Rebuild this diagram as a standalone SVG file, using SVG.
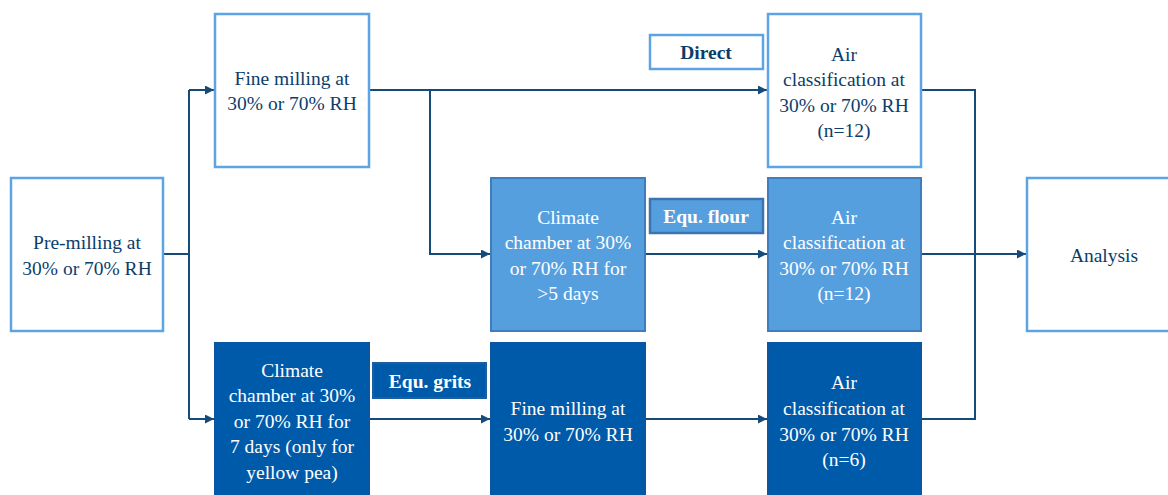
<svg xmlns="http://www.w3.org/2000/svg" width="1168" height="495" viewBox="0 0 1168 495">
<defs>
<marker id="arr" viewBox="0 0 10 10" refX="10" refY="5" markerWidth="4.5" markerHeight="4.5" orient="auto" markerUnits="strokeWidth">
<path d="M0,0 L10,5 L0,10 z" fill="#164A78"/>
</marker>
<style>
.w{fill:#fff;stroke:#5BA4E6;stroke-width:2.5}
.m{fill:#569FDF;stroke:#3F7DBD;stroke-width:2}
.d{fill:#005AAA;stroke:#0A56A0;stroke-width:2}
.lw{fill:#fff;stroke:#5BA4E6;stroke-width:2.5}
.lm{fill:#569FDF;stroke:#3B74B0;stroke-width:2.5}
.ld{fill:#005AAA;stroke:#1C5E9E;stroke-width:2}
text{font-family:'Liberation Serif','Times New Roman',serif;font-size:19.5px;text-anchor:middle}
.tn{fill:#0B3D6B}
.tw{fill:#fff}
.b{font-weight:bold}
.c{fill:none;stroke:#164A78;stroke-width:2}
</style>
</defs>
<g id="connectors">
<path class="c" d="M163,254 H189"/>
<path class="c" d="M189,90 V419"/>
<path class="c" d="M189,90 H214" marker-end="url(#arr)"/>
<path class="c" d="M189,419 H214" marker-end="url(#arr)"/>
<path class="c" d="M369,90 H767" marker-end="url(#arr)"/>
<path class="c" d="M430,90 V254 H490" marker-end="url(#arr)"/>
<path class="c" d="M645,254 H767" marker-end="url(#arr)"/>
<path class="c" d="M369,419 H490" marker-end="url(#arr)"/>
<path class="c" d="M645,419 H767" marker-end="url(#arr)"/>
<path class="c" d="M921,90 H975 V419 H921"/>
<path class="c" d="M921,254 H1026" marker-end="url(#arr)"/>
</g>
<g id="premilling">
<rect class="w" x="11" y="178" width="152" height="153"/>
<text class="tn" x="87" y="249">Pre-milling at</text>
<text class="tn" x="87" y="275">30% or 70% RH</text>
</g>
<g id="finemilling1">
<rect class="w" x="215" y="14" width="154" height="153"/>
<text class="tn" x="292" y="85">Fine milling at</text>
<text class="tn" x="292" y="110">30% or 70% RH</text>
</g>
<g id="direct">
<rect class="lw" x="650" y="35" width="113" height="34"/>
<text class="tn b" x="706" y="59">Direct</text>
</g>
<g id="air1">
<rect class="w" x="768" y="14" width="153" height="153"/>
<text class="tn" x="844" y="61">Air</text>
<text class="tn" x="844" y="86">classification at</text>
<text class="tn" x="844" y="112">30% or 70% RH</text>
<text class="tn" x="844" y="137">(n=12)</text>
</g>
<g id="climate1">
<rect class="m" x="491" y="178" width="154" height="153"/>
<text class="tw" x="568" y="224">Climate</text>
<text class="tw" x="568" y="249">chamber at 30%</text>
<text class="tw" x="568" y="275">or 70% RH for</text>
<text class="tw" x="568" y="300">&gt;5 days</text>
</g>
<g id="equflour">
<rect class="lm" x="650" y="199" width="113" height="34"/>
<text class="tw b" x="706" y="223">Equ. flour</text>
</g>
<g id="air2">
<rect class="m" x="768" y="178" width="153" height="153"/>
<text class="tw" x="844" y="224">Air</text>
<text class="tw" x="844" y="249">classification at</text>
<text class="tw" x="844" y="275">30% or 70% RH</text>
<text class="tw" x="844" y="300">(n=12)</text>
</g>
<g id="analysis">
<rect class="w" x="1027" y="178" width="153" height="153"/>
<text class="tn" x="1104" y="262">Analysis</text>
</g>
<g id="climate2">
<rect class="d" x="215" y="343" width="154" height="160"/>
<text class="tw" x="292" y="377">Climate</text>
<text class="tw" x="292" y="402">chamber at 30%</text>
<text class="tw" x="292" y="428">or 70% RH for</text>
<text class="tw" x="292" y="453">7 days (only for</text>
<text class="tw" x="292" y="479">yellow pea)</text>
</g>
<g id="equgrits">
<rect class="ld" x="373" y="363" width="113" height="35"/>
<text class="tw b" x="430" y="388">Equ. grits</text>
</g>
<g id="finemilling2">
<rect class="d" x="491" y="343" width="154" height="160"/>
<text class="tw" x="568" y="415">Fine milling at</text>
<text class="tw" x="568" y="441">30% or 70% RH</text>
</g>
<g id="air3">
<rect class="d" x="768" y="343" width="153" height="160"/>
<text class="tw" x="844" y="389">Air</text>
<text class="tw" x="844" y="415">classification at</text>
<text class="tw" x="844" y="441">30% or 70% RH</text>
<text class="tw" x="844" y="466">(n=6)</text>
</g>
</svg>
